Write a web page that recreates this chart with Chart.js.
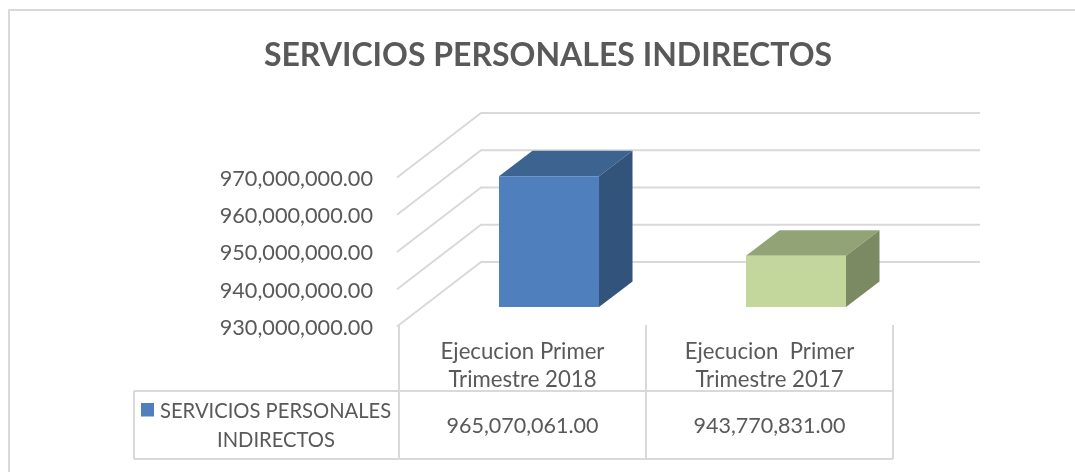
<!DOCTYPE html>
<html>
<head>
<meta charset="utf-8">
<style>html,body{margin:0;padding:0;background:#fff}canvas{display:block}</style>
<script src="https://cdn.jsdelivr.net/npm/chart.js@4"></script>
</head>
<body>
<canvas id="c" width="1075" height="472"></canvas>
<script>
const titleText = "SERVICIOS PERSONALES INDIRECTOS";
const categories = [["Ejecucion Primer", "Trimestre 2018"], ["Ejecucion  Primer", "Trimestre 2017"]];
const seriesName = "SERVICIOS PERSONALES INDIRECTOS";
const seriesLegendLines = ["SERVICIOS PERSONALES", "INDIRECTOS"];
const values = [965070061, 943770831];
const axisMin = 930000000;
const axisMax = 970000000;
const axisStep = 10000000;
const frontColors = ["#4f80bd", "#c3d69b"];
const topColors = ["#3d6390", "#92a375"];
const sideColors = ["#32547b", "#7b8a63"];

const TEXT = "#595959", LINE = "#d9d9d9", FONT = "Lato";
const fmt = v => v.toLocaleString("en-US", {minimumFractionDigits: 2, maximumFractionDigits: 2});
const wall = {dx: 82, dy: -63, right: 980};
const bar3d = {dx: 26.5, dy: -18, ox: 33.5, oy: -25.5};

function seg(ctx, pts, color, w) {
  ctx.beginPath();
  pts.forEach((p, i) => i ? ctx.lineTo(p[0], p[1]) : ctx.moveTo(p[0], p[1]));
  ctx.lineWidth = w; ctx.strokeStyle = color; ctx.stroke();
}
function poly(ctx, pts, color) {
  ctx.beginPath();
  pts.forEach((p, i) => i ? ctx.lineTo(p[0], p[1]) : ctx.moveTo(p[0], p[1]));
  ctx.closePath(); ctx.fillStyle = color; ctx.fill();
}

let nudged = false;
const scene = {
  id: "scene",
  beforeDraw(chart) {
    if (nudged) return;
    nudged = true;
    chart.scales.y.getLabelItems().forEach(it => { it.options.translation[1] += 3; });
  },
  beforeDatasetsDraw(chart) {
    const ctx = chart.ctx, y = chart.scales.y, x = chart.scales.x, a = chart.chartArea;
    ctx.save();
    // chart frame
    seg(ctx, [[9, 472], [9, 10], [1075, 10]], LINE, 2);
    // perspective gridlines
    y.ticks.forEach(t => {
      const py = y.getPixelForValue(t.value);
      seg(ctx, [[a.left - 2, py + 1.5], [a.left + wall.dx, py + wall.dy], [wall.right, py + wall.dy]], LINE, 2);
    });
    // data table rules
    const half = (x.getPixelForValue(1) - x.getPixelForValue(0)) / 2;
    const rowTop = 391, rowBot = 459, tableLeft = 134;
    [a.left, x.getPixelForValue(0) + half, a.right].forEach(px => seg(ctx, [[px, a.bottom], [px, rowBot]], LINE, 2));
    seg(ctx, [[tableLeft, rowTop], [a.right, rowTop]], LINE, 2);
    seg(ctx, [[tableLeft, rowBot], [a.right, rowBot]], LINE, 2);
    seg(ctx, [[tableLeft, rowTop], [tableLeft, rowBot]], LINE, 2);
    // data table text
    ctx.fillStyle = TEXT; ctx.textAlign = "center"; ctx.textBaseline = "middle";
    ctx.font = "21.5px " + FONT;
    values.forEach((v, i) => ctx.fillText(fmt(v), x.getPixelForValue(i), 426.5));
    ctx.fillStyle = frontColors[0]; ctx.fillRect(141, 403, 13, 13.5);
    ctx.fillStyle = TEXT;
    ctx.font = "20.2px " + FONT;
    ctx.textAlign = "left"; ctx.fillText(seriesLegendLines[0], 160, 411.5);
    ctx.textAlign = "center"; ctx.fillText(seriesLegendLines[1], 276, 440.5);
    // depth faces of the bars
    chart.getDatasetMeta(0).data.forEach((b, i) => {
      const l = b.x - b.width / 2 + bar3d.dx, r = b.x + b.width / 2 + bar3d.dx;
      const t = b.y + bar3d.dy, bt = b.base + bar3d.dy;
      poly(ctx, [[l, t], [r, t], [r + bar3d.ox, t + bar3d.oy], [l + bar3d.ox, t + bar3d.oy]], topColors[i]);
      poly(ctx, [[r, t], [r + bar3d.ox, t + bar3d.oy], [r + bar3d.ox, bt + bar3d.oy], [r, bt]], sideColors[i]);
    });
    ctx.restore();
    ctx.save();
    ctx.translate(bar3d.dx, bar3d.dy);
  },
  afterDatasetsDraw(chart) { chart.ctx.restore(); }
};

new Chart(document.getElementById("c"), {
  type: "bar",
  data: {
    labels: categories,
    datasets: [{label: seriesName, data: values, base: axisMin, backgroundColor: frontColors, barPercentage: 0.405, categoryPercentage: 1, clip: false}]
  },
  plugins: [scene],
  options: {
    responsive: false,
    animation: false,
    layout: {padding: {left: 203, right: 182, top: 18, bottom: 0}},
    plugins: {
      legend: {display: false},
      tooltip: {enabled: false},
      title: {
        display: true, text: titleText, color: TEXT,
        font: {family: FONT, size: 32, weight: "bold", lineHeight: 1.2},
        padding: {top: 18, bottom: 101.6}
      }
    },
    scales: {
      y: {
        min: axisMin, max: axisMax,
        grid: {display: false}, border: {display: false},
        afterFit(s) { s.width = 196; },
        ticks: {stepSize: axisStep, color: TEXT, padding: 18, font: {family: FONT, size: 21.7}, callback: v => fmt(v)}
      },
      x: {
        grid: {display: false}, border: {display: false},
        afterFit(s) { s.height = 147; },
        ticks: {color: TEXT, padding: 5, autoSkip: false, maxRotation: 0, minRotation: 0, font: {family: FONT, size: 22.2, lineHeight: 1.26}}
      }
    }
  }
});
</script>
</body>
</html>
